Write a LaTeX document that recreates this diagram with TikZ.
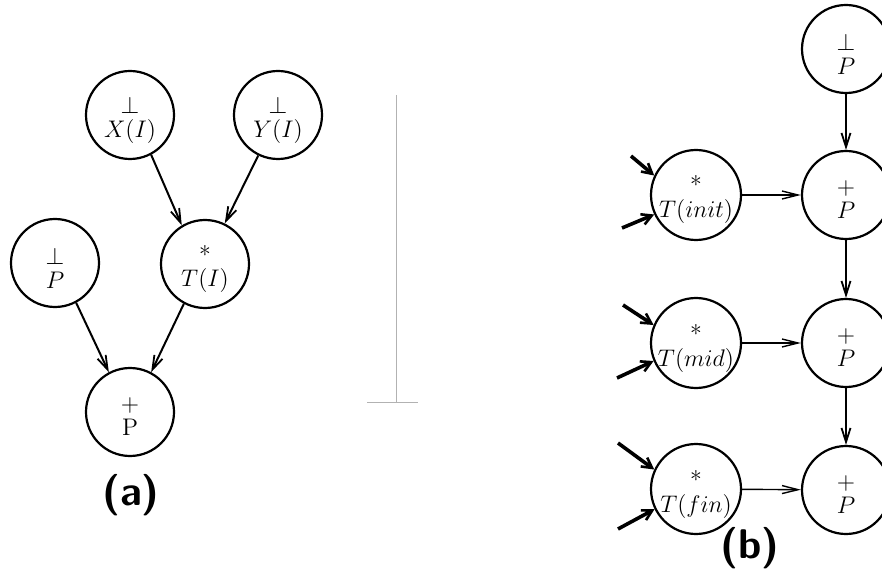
\documentclass[tikz,border=0pt]{standalone}
\usetikzlibrary{arrows.meta}
\begin{document}
\begin{tikzpicture}[x=0.5pt,y=-0.5pt,
  st/.style={circle,draw,line width=1.1pt,minimum size=44pt,inner sep=0pt},
  stw/.style={st,minimum size=45pt},
  txt/.style={align=center,inner sep=0pt,font=\fontsize{12}{12}\selectfont,yshift=-2.5pt},
  edge/.style={line width=1pt,-{Straight Barb[length=7pt,width=4.5pt,line width=0.9pt]}},
  hedge/.style={line width=0.7pt,-{Straight Barb[length=8pt,width=4pt,line width=0.7pt]}},
  inedge/.style={line width=1.8pt,-{Straight Barb[length=5pt,width=5.5pt,line width=1.3pt]}},
  lab/.style={font=\fontsize{20.74}{21}\selectfont\sffamily\bfseries},
  divider/.style={gray!60,line width=0.4pt}]
\useasboundingbox (0,0) rectangle (882,571);
\clip (0,0) rectangle (882,571);
% (a)
\node[st] (x) at (130,115) {};
\node[st] (y) at (278,115) {};
\node[st] (pl) at (55,263) {};
\node[st] (t) at (205,264) {};
\node[st] (pb) at (130,412) {};
\node[txt] (xt) at (x) {$\perp$\\$X(I)$};
\node[txt] (yt) at (y) {$\perp$\\$Y(I)$};
\node[txt] (plt) at (pl) {$\perp$\\$P$};
\node[txt] (tt) at (t) {*\\$T(I)$};
\node[txt] (pbt) at (pb) {$+$\\P};
\draw[edge] (x.-62) -- (t.121);
\draw[edge] (y.-116) -- (t.64);
\draw[edge] (pl.-62) -- (pb.118);
\draw[edge] (t.-118) -- (pb.62);
\node[lab] (la) at (131,495) {(a)};
% divider
\coordinate (d1) at (396,95);
\coordinate (d2) at (396,402);
\coordinate (d3) at (367,402);
\coordinate (d4) at (418,402);
\draw[divider] (d1) -- (d2);
\draw[divider] (d3) -- (d4);
% (b)
\node[st] (p0) at (846,49) {};
\node[stw] (ti) at (696,195) {};
\node[st] (p1) at (846,195) {};
\node[stw] (tm) at (696,343) {};
\node[st] (p2) at (846,343) {};
\node[stw] (tf) at (696,489) {};
\node[st] (p3) at (846,490) {};
\node[txt] (p0t) at (p0) {$\perp$\\$P$};
\node[txt] (tit) at (ti) {*\\$T(init)$};
\node[txt] (p1t) at (p1) {$+$\\$P$};
\node[txt] (tmt) at (tm) {*\\$T(mid)$};
\node[txt] (p2t) at (p2) {$+$\\$P$};
\node[txt] (tft) at (tf) {*\\$T(fin)$};
\node[txt] (p3t) at (p3) {$+$\\$P$};
\draw[edge] (p0) -- (p1);
\draw[edge] (p1) -- (p2);
\draw[edge] (p2) -- (p3);
\draw[hedge] (ti) -- (p1);
\draw[hedge] (tm) -- (p2);
\draw[hedge] (tf) -- (p3);
\coordinate (ia) at (631,156);
\coordinate (ib) at (622,228);
\coordinate (ma) at (623,305);
\coordinate (mb) at (617,378);
\coordinate (fa) at (618,443);
\coordinate (fb) at (618,529);
\draw[inedge] (ia) -- (ti.155);
\draw[inedge] (ib) -- (ti.205);
\draw[inedge] (ma) -- (tm.157);
\draw[inedge] (mb) -- (tm.203);
\draw[inedge] (fa) -- (tf.155);
\draw[inedge] (fb) -- (tf.206);
\node[lab] (lb) at (750,548) {(b)};
\end{tikzpicture}
\end{document}
